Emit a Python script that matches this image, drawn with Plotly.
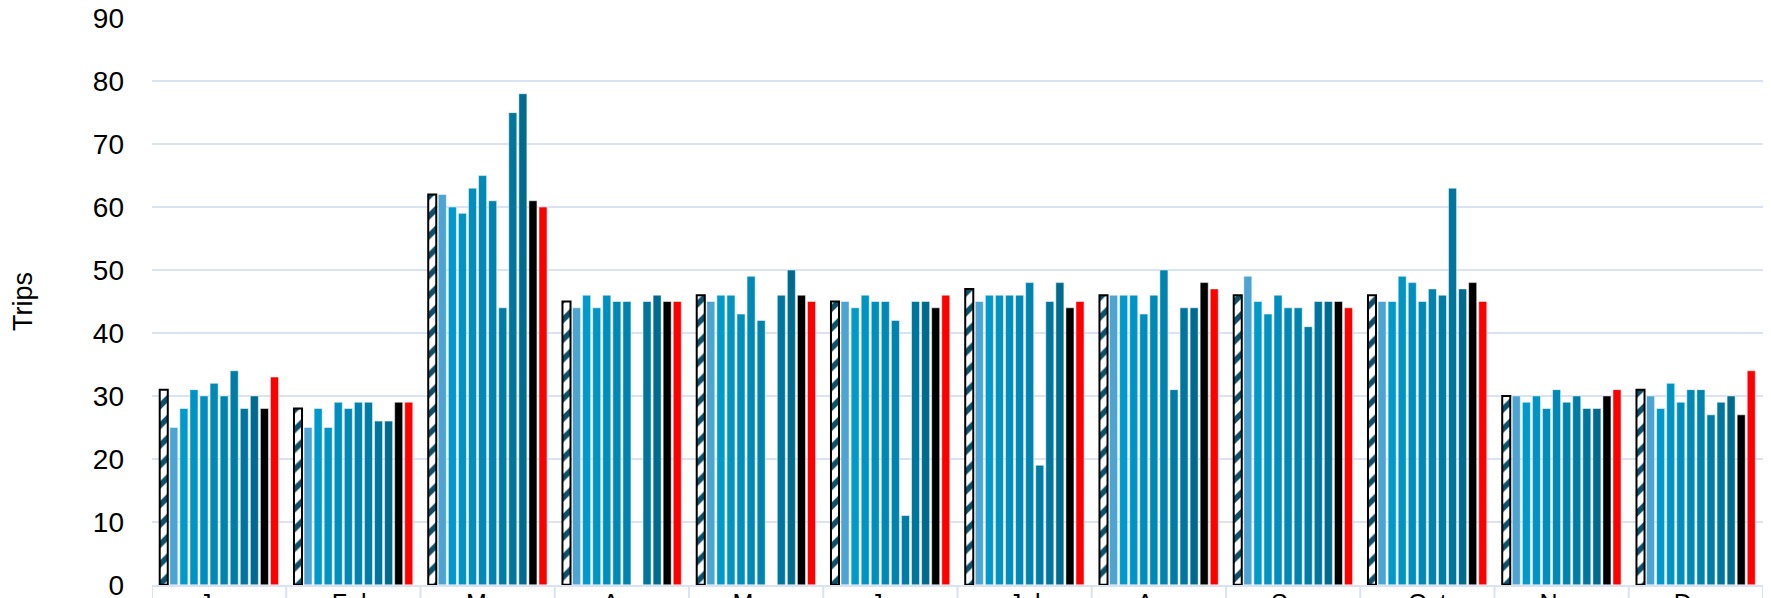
import plotly.graph_objects as go

months = ["Jan", "Feb", "Mar", "Apr", "May", "Jun", "Jul", "Aug", "Sep", "Oct", "Nov", "Dec"]

# hatched reference series
s_ref = [31, 28, 62, 45, 46, 45, 47, 46, 46, 46, 30, 31]
# blue series (light to dark)
s1 = [25, 25, 62, 44, 45, 45, 45, 46, 49, 45, 30, 30]
s2 = [28, 28, 60, 46, 46, 44, 46, 46, 45, 45, 29, 28]
s3 = [31, 25, 59, 44, 46, 46, 46, 46, 43, 49, 30, 32]
s4 = [30, 29, 63, 46, 43, 45, 46, 43, 46, 48, 28, 29]
s5 = [32, 28, 65, 45, 49, 45, 46, 46, 44, 45, 31, 31]
s6 = [30, 29, 61, 45, 42, 42, 48, 50, 44, 47, 29, 31]
s7 = [34, 29, 44, None, None, 11, 19, 31, 41, 46, 30, 27]
s8 = [28, 26, 75, 45, 46, 45, 45, 44, 45, 63, 28, 29]
s9 = [30, 26, 78, 46, 50, 45, 48, 44, 45, 47, 28, 30]
s_black = [28, 29, 61, 45, 46, 44, 44, 48, 45, 48, 30, 27]
s_red = [33, 29, 60, 45, 45, 46, 45, 47, 44, 45, 31, 34]

blue_series = [s1, s2, s3, s4, s5, s6, s7, s8, s9]
blue_colors = ["#4BA4D1", "#0099CC", "#0094C5", "#008EBE", "#0089B7",
               "#0083AF", "#007DA7", "#00769E", "#006B8E"]

fig = go.Figure()

fig.add_trace(go.Bar(
    x=months, y=s_ref,
    marker=dict(color="white",
                line=dict(color="black", width=2),
                pattern=dict(shape="/", fgcolor="#0B4F68", bgcolor="white",
                             size=14, solidity=0.4, fillmode="replace")),
))
for vals, col in zip(blue_series, blue_colors):
    fig.add_trace(go.Bar(x=months, y=vals,
                         marker=dict(color=col, line=dict(color="rgba(255,255,255,0.5)", width=1))))
fig.add_trace(go.Bar(x=months, y=s_black,
                     marker=dict(color="black", line=dict(color="rgba(255,255,255,0.5)", width=1))))
fig.add_trace(go.Bar(x=months, y=s_red,
                     marker=dict(color="#FF0000", line=dict(color="rgba(255,255,255,0.5)", width=1))))

grid_col = "#D9E3F3"
shapes = []
for i in range(len(months) + 1):
    shapes.append(dict(type="line", xref="x", yref="paper",
                       x0=i - 0.5, x1=i - 0.5, y0=0, y1=-0.1,
                       line=dict(color=grid_col, width=2), layer="below"))

fig.update_layout(
    width=1771, height=598,
    margin=dict(l=152, r=8, t=18, b=13),
    barmode="group", bargap=0.1, bargroupgap=0.2,
    plot_bgcolor="white", paper_bgcolor="white",
    showlegend=False,
    font=dict(family="Liberation Sans, Arial, sans-serif", color="black"),
    shapes=shapes,
    xaxis=dict(showgrid=False, showline=True, linecolor=grid_col, linewidth=2,
               ticks="", tickfont=dict(size=25), range=[-0.5, 11.5], automargin=False,
               ticklabeloverflow="allow", ticklabelstandoff=-5),
    yaxis=dict(range=[-0.03, 90.03], tickvals=list(range(0, 91, 10)), showgrid=True,
               gridcolor=grid_col, gridwidth=2,
               zeroline=False, showline=False, ticks="", tickfont=dict(size=28),
               ticklabelstandoff=27, ticklabeloverflow="allow",
               title=dict(text="Trips", font=dict(size=27), standoff=52), automargin=False),
)

fig.write_html("out.html", config={"displayModeBar": False},
               post_script="document.body.style.margin='0';document.body.style.overflow='hidden';")
